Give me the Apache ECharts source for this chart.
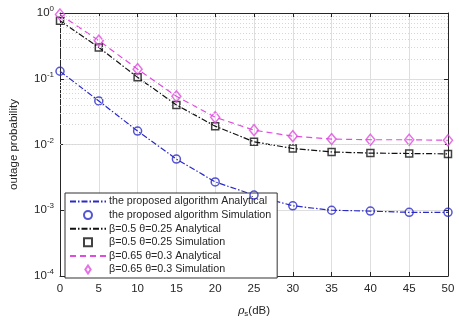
<!DOCTYPE html>
<html>
<head>
<meta charset="utf-8">
<script src="https://cdn.jsdelivr.net/npm/echarts@6/dist/echarts.min.js"></script>
<style>
  html, body { margin: 0; padding: 0; background: #fff; }
  #chart { width: 459px; height: 323px; }
</style>
</head>
<body>
<div id="chart"></div>
<script>
const snr = [0, 5, 10, 15, 20, 25, 30, 35, 40, 45, 50];
const proposed = [0.13, 0.046, 0.016, 0.006, 0.0027, 0.0017, 0.00117, 0.001, 0.00097, 0.00093, 0.00093];
const caseA = [0.76, 0.30, 0.105, 0.04, 0.019, 0.011, 0.0087, 0.0077, 0.0074, 0.0073, 0.0072];
const caseB = [0.95, 0.38, 0.14, 0.054, 0.026, 0.0165, 0.0134, 0.0121, 0.0118, 0.0118, 0.0116];
const names = [
  "the proposed algorithm Analytical",
  "the proposed algorithm Simulation",
  "β=0.5 θ=0.25 Analytical",
  "β=0.5 θ=0.25 Simulation",
  "β=0.65 θ=0.3 Analytical",
  "β=0.65 θ=0.3 Simulation"
];

const blue = "#2a2ac8";
const black = "#111111";
const magenta = "#e04ce0";
const axisColor = "#262626";
const font = "Liberation Sans, Arial, sans-serif";

const squarePath = "path://M0,0L10,0L10,10L0,10Z";
const diamondPath = "path://M5,0L9,6L5,12L1,6Z";

const pairs = (ys) => snr.map((x, i) => [x, ys[i]]);

// minor grid values 2..9 per decade
const minorVals = [];
for (let e = -4; e < 0; e++) {
  for (let m = 2; m <= 9; m++) minorVals.push(m * Math.pow(10, e));
}

const chart = echarts.init(document.getElementById("chart"));

function analytical(name, ys, color, dash) {
  return {
    name, type: "line", data: pairs(ys), symbol: "none", z: 3,
    lineStyle: { color, width: 1.2, type: dash },
    itemStyle: { color }
  };
}
function simulation(name, ys, color, symbol, size) {
  return {
    name, type: "scatter", data: pairs(ys), symbol, symbolSize: size, z: 4,
    itemStyle: { color: "rgba(0,0,0,0)", borderColor: color, borderWidth: 1.5 }
  };
}

const hideSymbol = { opacity: 0 };

chart.setOption({
  animation: false,
  grid: { left: 57, right: 11, top: 13, bottom: 40 },
  legend: {
    data: [
      { name: names[0], itemStyle: hideSymbol },
      { name: names[1] },
      { name: names[2], itemStyle: hideSymbol },
      { name: names[3], icon: squarePath },
      { name: names[4], itemStyle: hideSymbol },
      { name: names[5], icon: diamondPath }
    ],
    orient: "vertical",
    left: 65, top: 193,
    padding: [3, 6, 3, 4],
    itemWidth: 36, itemHeight: 8, itemGap: 2.6,
    symbolKeepAspect: true,
    backgroundColor: "#fff",
    borderColor: "#333", borderWidth: 1, borderRadius: 0,
    textStyle: { fontFamily: font, fontSize: 10.7, color: axisColor, padding: [0, 0, 0, -2] }
  },
  xAxis: [{
    type: "value", min: 0, max: 50, interval: 5,
    name: "{r|ρ}{s|s}{a|(dB)}", nameLocation: "middle", nameGap: 28,
    nameTextStyle: {
      rich: {
        r: { fontFamily: "DejaVu Serif, serif", fontStyle: "italic", fontSize: 11, color: axisColor },
        s: { fontFamily: font, fontSize: 8, color: axisColor, verticalAlign: "bottom", padding: [6, 0, 0, 0] },
        a: { fontFamily: font, fontSize: 11.5, color: axisColor }
      }
    },
    axisLine: { lineStyle: { color: axisColor } },
    axisTick: { inside: true, length: 4, lineStyle: { color: axisColor } },
    axisLabel: { fontFamily: font, fontSize: 11.5, color: axisColor, margin: 7 },
    splitLine: { show: true, lineStyle: { color: "#dedede" } }
  }, {
    type: "value", min: 0, max: 50, interval: 5, position: "top",
    axisLine: { onZero: false, lineStyle: { color: axisColor } },
    axisTick: { inside: true, length: 4, lineStyle: { color: axisColor } },
    axisLabel: { show: false }, splitLine: { show: false }
  }],
  yAxis: [{
    type: "log", logBase: 10, min: 1e-4, max: 1,
    name: "outage probability", nameLocation: "middle", nameGap: 40,
    nameTextStyle: { fontFamily: font, fontSize: 11.5, color: axisColor },
    axisLine: { show: true, lineStyle: { color: axisColor } },
    axisTick: { show: true, inside: true, length: 4, lineStyle: { color: axisColor } },
    axisLabel: {
      margin: 6,
      formatter: (v) => "{b|10}{e|" + Math.round(Math.log10(v)) + "}",
      rich: {
        b: { fontFamily: font, fontSize: 11.5, color: axisColor },
        e: { fontFamily: font, fontSize: 8, color: axisColor, verticalAlign: "top", padding: [0, 0, 8, 0] }
      }
    },
    splitLine: { show: true, lineStyle: { color: "#dedede" } }
  }, {
    type: "log", logBase: 10, min: 1e-4, max: 1, position: "right",
    axisLine: { show: true, onZero: false, lineStyle: { color: axisColor } },
    axisTick: { show: true, inside: true, length: 4, lineStyle: { color: axisColor } },
    axisLabel: { show: false }, splitLine: { show: false }
  }],
  series: [
    {
      name: "minor", type: "line", data: [], z: 1, silent: true,
      markLine: {
        silent: true, symbol: "none", label: { show: false }, animation: false,
        lineStyle: { color: "#d6d6d6", type: [1, 2], width: 1 },
        data: minorVals.map((v) => ({ yAxis: v }))
      }
    },
    analytical(names[0], proposed, blue, [6, 2, 1.5, 2]),
    simulation(names[1], proposed, blue, "circle", 8),
    analytical(names[2], caseA, black, [6, 2, 1.5, 2]),
    simulation(names[3], caseA, black, "rect", 7),
    analytical(names[4], caseB, magenta, [6, 4]),
    simulation(names[5], caseB, magenta, "diamond", [9, 11])
  ]
});
</script>
</body>
</html>
